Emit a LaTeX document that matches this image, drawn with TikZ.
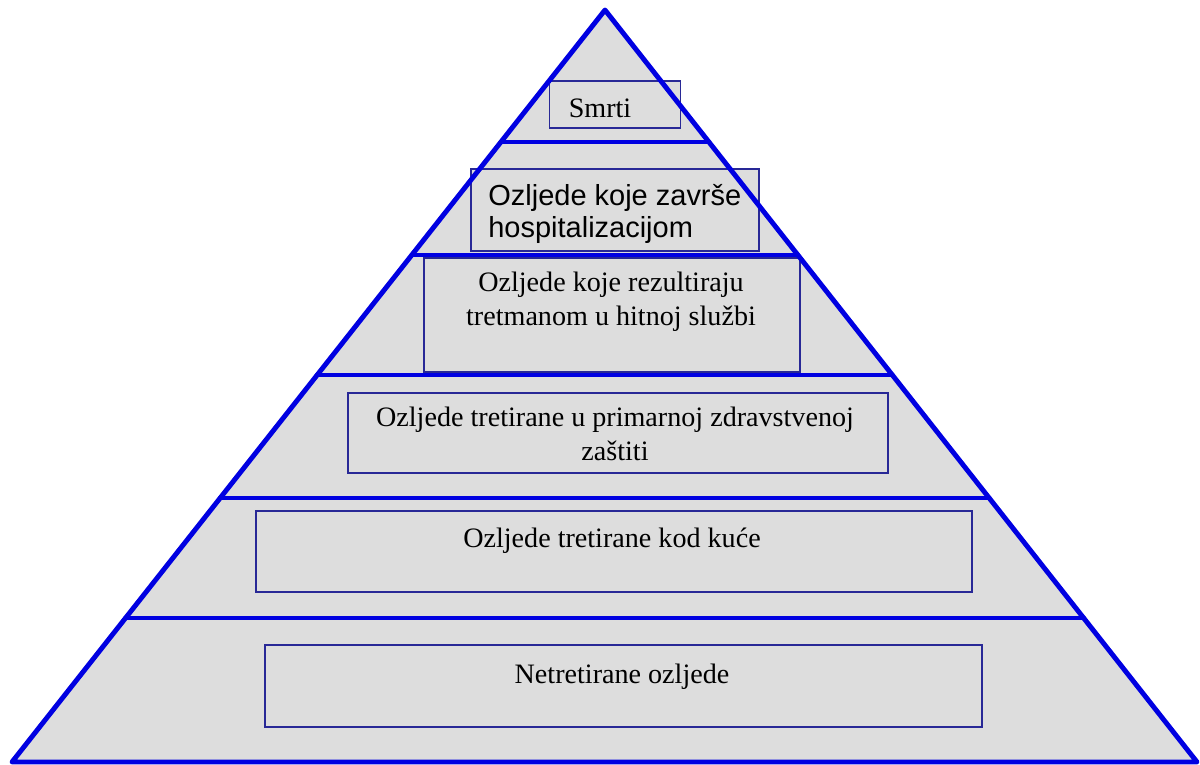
\documentclass[tikz,border=0pt]{standalone}
\usepackage{fontspec}
\setmainfont{Liberation Serif}
\setsansfont{Liberation Sans}
\usepackage{xcolor}
\usepackage{tikz}
\usetikzlibrary{calc}
\definecolor{pyrgray}{RGB}{221,221,221}
\definecolor{pyrblue}{RGB}{0,0,225}
\definecolor{boxblue}{RGB}{40,40,150}
\tikzstyle{level} = [draw=pyrblue, line width=2.8pt, line cap=round, line join=round]
\tikzstyle{mybox} = [draw=boxblue, fill=pyrgray, line width=1pt, rectangle, inner sep=0pt]
\tikzstyle{boxtext} = [font=\fontsize{16}{19.3}\selectfont, align=center, inner sep=0pt]
\tikzstyle{sanstext} = [font=\sffamily\fontsize{16.5}{18}\selectfont, align=left, inner sep=0pt]

\begin{document}
\begin{tikzpicture}[x=0.02cm, y=-0.02cm]
        \useasboundingbox (0,0) rectangle (1200,764);
        \coordinate (apex) at (605,10);
        \coordinate (bl) at (12,762);
        \coordinate (br) at (1197,762);
        \fill[pyrgray] (apex) -- (bl) -- (br) -- cycle;
        \node [mybox, minimum width=2.62cm, minimum height=0.94cm] (smrti) at (615,104.5) {};
        \node [mybox, minimum width=5.76cm, minimum height=1.64cm] (hosp) at (615,210) {};
        \node [mybox, minimum width=7.52cm, minimum height=2.28cm] (hitna) at (612,315) {};
        \node [mybox, minimum width=10.8cm, minimum height=1.6cm] (primarna) at (618,433) {};
        \node [mybox, minimum width=14.32cm, minimum height=1.62cm] (kuca) at (614,551.5) {};
        \node [mybox, minimum width=14.34cm, minimum height=1.64cm] (netret) at (623.5,686) {};
        \node [boxtext, anchor=base] (smrtitxt) at (600,117) {Smrti};
        \node [sanstext, anchor=base west] (hosptxt) at (488,237) {Ozljede koje završe\\hospitalizacijom};
        \node [boxtext, anchor=base] (hitnatxt) at (611,325) {Ozljede koje rezultiraju\\tretmanom u hitnoj službi};
        \node [boxtext, anchor=base] (primarnatxt) at (615,460) {Ozljede tretirane u primarnoj zdravstvenoj\\zaštiti};
        \node [boxtext, anchor=base] (kucatxt) at (612,547) {Ozljede tretirane kod kuće};
        \node [boxtext, anchor=base] (netrettxt) at (622,683) {Netretirane ozljede};
        \foreach \t in {0.1755,0.3258,0.4854,0.6489,0.8085}
            \draw[level] ($(apex)!\t!(bl)$) -- ($(apex)!\t!(br)$);
        \draw[level] (apex) -- (bl) -- (br) -- cycle;
    \end{tikzpicture}
\end{document}
